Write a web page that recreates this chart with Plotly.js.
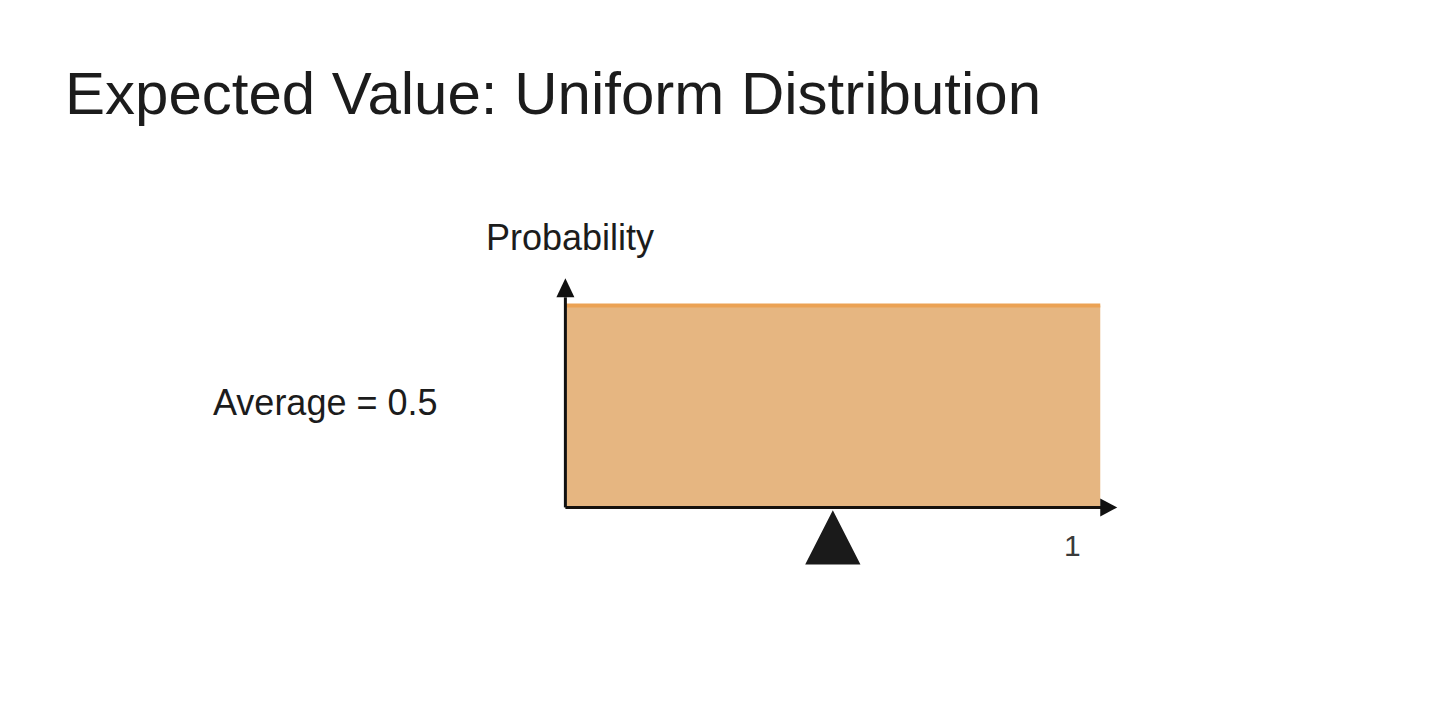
<!DOCTYPE html>
<html>
<head>
<meta charset="utf-8">
<script src="https://cdn.plot.ly/plotly-3.0.1.min.js"></script>
<style>
  html, body { margin: 0; padding: 0; background: #ffffff; }
  #chart { width: 1440px; height: 711px; }
</style>
</head>
<body>
<div id="chart"></div>
<script>
// Uniform distribution on [lower, upper]
const lower = 0;
const upper = 1;
const density = [1 / (upper - lower)];
const barCenter = [(lower + upper) / 2];
const barWidth = [upper - lower];
const mean = (lower + upper) / 2;

const titleText = "Expected Value: Uniform Distribution";
const yLabel = "Probability";
const averageLabel = "Average = " + mean;
const xTickLabel = String(upper);

const textFont = "'Liberation Sans', Arial, Helvetica, sans-serif";
const ink = "#1c1c1c";

const traces = [
  {
    type: "bar",
    x: barCenter,
    y: density,
    width: barWidth,
    marker: { color: "#E6B681", line: { width: 0 } },
    hoverinfo: "skip"
  },
  {
    type: "scatter",
    mode: "lines",
    x: [lower, upper],
    y: [density[0], density[0]],
    line: { color: "#EBA254", width: 4 },
    hoverinfo: "skip"
  }
];

const layout = {
  width: 1440,
  height: 711,
  paper_bgcolor: "#ffffff",
  plot_bgcolor: "#ffffff",
  showlegend: false,
  margin: { l: 544, r: 313, t: 265, b: 143, pad: 0 },
  title: {
    text: titleText,
    x: 65 / 1440,
    xanchor: "left",
    xref: "container",
    y: 1 - 93 / 711,
    yanchor: "middle",
    yref: "container",
    font: { family: textFont, size: 60, color: ink }
  },
  xaxis: { range: [-0.04, 1.05], visible: false, fixedrange: true },
  yaxis: { range: [-0.3, 1.2], visible: false, fixedrange: true },
  shapes: [
    // x axis line
    { type: "line", xref: "x", yref: "y", x0: lower, x1: 1.015, y0: 0, y1: 0,
      line: { color: "#15110d", width: 3 } },
    // y axis line
    { type: "line", xref: "x", yref: "y", x0: lower, x1: lower, y0: 0, y1: 1.04,
      line: { color: "#111111", width: 3 } },
    // x axis arrowhead
    { type: "path", xref: "x", yref: "y", xsizemode: "pixel", ysizemode: "pixel",
      xanchor: 1.0, yanchor: 0,
      path: "M 0,-9 L 17,0 L 0,9 Z",
      fillcolor: "#111111", line: { width: 0 } },
    // y axis arrowhead
    { type: "path", xref: "x", yref: "y", xsizemode: "pixel", ysizemode: "pixel",
      xanchor: lower, yanchor: 1.04,
      path: "M -9,0 L 9,0 L 0,19 Z",
      fillcolor: "#111111", line: { width: 0 } },
    // fulcrum at the mean
    { type: "path", xref: "x", yref: "y", xsizemode: "pixel", ysizemode: "pixel",
      xanchor: mean, yanchor: 0,
      path: "M -26,-56 L 26,-56 L 0,-5 Z",
      fillcolor: "#1a1a1a", line: { color: "#1a1a1a", width: 2 } }
  ],
  annotations: [
    { text: yLabel, xref: "paper", yref: "paper", x: (570 - 544) / 583, y: (568 - 238) / 303,
      xanchor: "center", yanchor: "middle", showarrow: false,
      font: { family: textFont, size: 36, color: ink } },
    { text: averageLabel, xref: "paper", yref: "paper", x: (325 - 544) / 583, y: (568 - 402) / 303,
      xanchor: "center", yanchor: "middle", showarrow: false,
      font: { family: textFont, size: 36, color: ink } },
    { text: xTickLabel, xref: "x", yref: "y", x: upper, y: 0,
      xanchor: "center", yanchor: "middle", xshift: -28, yshift: -38, showarrow: false,
      font: { family: textFont, size: 30, color: "#3a3a3a" } }
  ]
};

Plotly.newPlot("chart", traces, layout, { displayModeBar: false, staticPlot: true });
</script>
</body>
</html>
